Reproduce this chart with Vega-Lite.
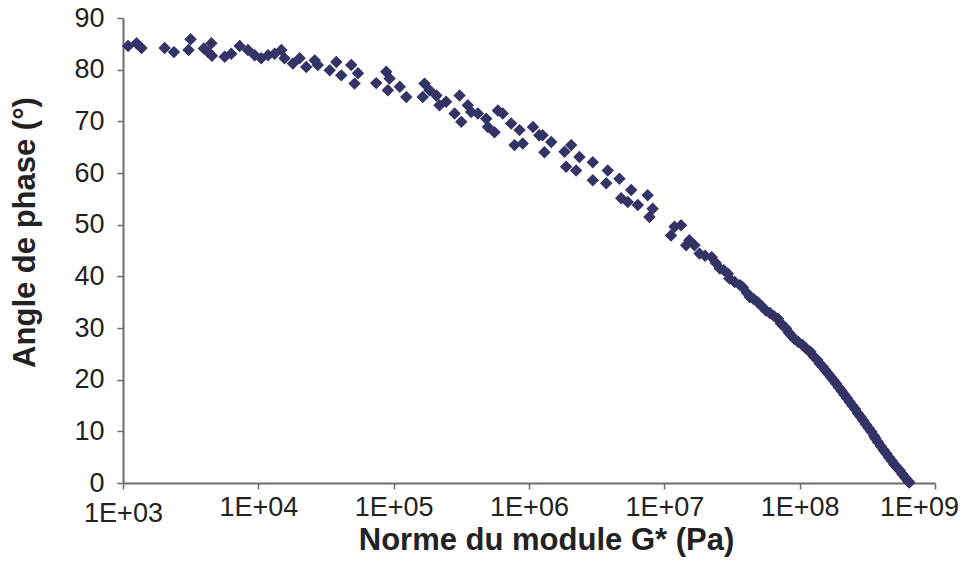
{
  "$schema": "https://vega.github.io/schema/vega-lite/v6.json",
  "width": 812,
  "height": 465,
  "autosize": "none",
  "padding": {"left": 123, "top": 18, "right": 27, "bottom": 88},
  "background": "white",
  "config": {
    "view": {"stroke": null},
    "axis": {
      "grid": false,
      "domainColor": "#706a6a",
      "domainWidth": 2,
      "tickColor": "#706a6a",
      "tickWidth": 1.5,
      "tickSize": 6,
      "labelFont": "Liberation Sans",
      "labelFontSize": 27,
      "labelColor": "#222222",
      "titleFont": "Liberation Sans",
      "titleFontSize": 31,
      "titleFontWeight": "bold",
      "titleColor": "#222222"
    }
  },
  "data": {
    "values": [
      {"G": 1.09e3, "phase": 84.6}, {"G": 1.26e3, "phase": 85.1}, {"G": 1.37e3, "phase": 84.2},
      {"G": 2.03e3, "phase": 84.2}, {"G": 2.38e3, "phase": 83.4}, {"G": 3.16e3, "phase": 85.9},
      {"G": 3.05e3, "phase": 83.8}, {"G": 3.96e3, "phase": 84.1}, {"G": 4.25e3, "phase": 83.4},
      {"G": 4.50e3, "phase": 85.1}, {"G": 4.54e3, "phase": 82.7}, {"G": 5.64e3, "phase": 82.5},
      {"G": 6.31e3, "phase": 83.1}, {"G": 7.28e3, "phase": 84.6}, {"G": 8.38e3, "phase": 83.8},
      {"G": 9.40e3, "phase": 82.8}, {"G": 1.05e4, "phase": 82.2}, {"G": 1.18e4, "phase": 82.8},
      {"G": 1.32e4, "phase": 83.1}, {"G": 1.48e4, "phase": 83.8}, {"G": 1.56e4, "phase": 82.2},
      {"G": 1.80e4, "phase": 81.2}, {"G": 2.02e4, "phase": 82.2}, {"G": 2.26e4, "phase": 80.5},
      {"G": 2.61e4, "phase": 81.8}, {"G": 2.75e4, "phase": 80.9}, {"G": 3.37e4, "phase": 79.9},
      {"G": 3.77e4, "phase": 81.5}, {"G": 4.10e4, "phase": 78.9}, {"G": 4.86e4, "phase": 80.9},
      {"G": 5.45e4, "phase": 79.3}, {"G": 5.14e4, "phase": 77.3}, {"G": 7.43e4, "phase": 77.4},
      {"G": 8.81e4, "phase": 79.6}, {"G": 9.33e4, "phase": 78.3}, {"G": 9.06e4, "phase": 76.0},
      {"G": 1.11e5, "phase": 76.7}, {"G": 1.24e5, "phase": 74.7}, {"G": 1.69e5, "phase": 77.3},
      {"G": 1.64e5, "phase": 74.7}, {"G": 1.84e5, "phase": 76.0}, {"G": 2.07e5, "phase": 75.0},
      {"G": 2.18e5, "phase": 73.1}, {"G": 2.44e5, "phase": 73.8}, {"G": 2.82e5, "phase": 71.5},
      {"G": 3.07e5, "phase": 75.0}, {"G": 3.16e5, "phase": 69.9}, {"G": 3.53e5, "phase": 73.1},
      {"G": 3.74e5, "phase": 71.8}, {"G": 4.19e5, "phase": 71.5}, {"G": 4.83e5, "phase": 70.5},
      {"G": 4.97e5, "phase": 68.9}, {"G": 5.56e5, "phase": 67.9}, {"G": 5.89e5, "phase": 72.1},
      {"G": 6.40e5, "phase": 71.5}, {"G": 7.38e5, "phase": 69.6}, {"G": 8.51e5, "phase": 68.3},
      {"G": 7.82e5, "phase": 65.4}, {"G": 8.99e5, "phase": 65.7}, {"G": 1.07e6, "phase": 68.9},
      {"G": 1.19e6, "phase": 67.3}, {"G": 1.30e6, "phase": 64.0}, {"G": 1.26e6, "phase": 67.3},
      {"G": 1.46e6, "phase": 66.0}, {"G": 1.83e6, "phase": 64.1}, {"G": 2.05e6, "phase": 65.4},
      {"G": 2.36e6, "phase": 63.1}, {"G": 1.88e6, "phase": 61.2}, {"G": 2.23e6, "phase": 60.5},
      {"G": 2.96e6, "phase": 62.1}, {"G": 2.96e6, "phase": 58.6}, {"G": 3.82e6, "phase": 60.5},
      {"G": 3.72e6, "phase": 58.0}, {"G": 4.66e6, "phase": 58.9}, {"G": 4.80e6, "phase": 55.1},
      {"G": 5.69e6, "phase": 56.7}, {"G": 5.37e6, "phase": 54.4}, {"G": 6.37e6, "phase": 53.8},
      {"G": 7.53e6, "phase": 55.7}, {"G": 8.20e6, "phase": 53.1}, {"G": 7.76e6, "phase": 51.5},
      {"G": 1.19e7, "phase": 49.6}, {"G": 1.12e7, "phase": 47.9}, {"G": 1.33e7, "phase": 49.9},
      {"G": 1.53e7, "phase": 47.0}, {"G": 1.67e7, "phase": 46.0}, {"G": 1.45e7, "phase": 46.0},
      {"G": 1.82e7, "phase": 44.4}, {"G": 2.00e7, "phase": 44.0}, {"G": 2.24e7, "phase": 43.7},
      {"G": 2.40e7, "phase": 42.6}, {"G": 2.57e7, "phase": 41.5}, {"G": 2.75e7, "phase": 41.2},
      {"G": 2.95e7, "phase": 40.5}, {"G": 3.02e7, "phase": 39.6}, {"G": 3.31e7, "phase": 38.9},
      {"G": 3.63e7, "phase": 38.3}, {"G": 3.80e7, "phase": 37.9}, {"G": 4.07e7, "phase": 36.8},
      {"G": 4.27e7, "phase": 36.0}, {"G": 4.57e7, "phase": 35.6}, {"G": 4.90e7, "phase": 35.0},
      {"G": 5.25e7, "phase": 34.2}, {"G": 5.62e7, "phase": 33.4}, {"G": 6.03e7, "phase": 32.9},
      {"G": 6.46e7, "phase": 32.3}, {"G": 6.92e7, "phase": 31.8}, {"G": 7.24e7, "phase": 30.9},
      {"G": 7.59e7, "phase": 30.4}, {"G": 7.94e7, "phase": 29.9}, {"G": 8.32e7, "phase": 29.1},
      {"G": 8.71e7, "phase": 28.5}, {"G": 9.12e7, "phase": 27.9}, {"G": 9.77e7, "phase": 27.3},
      {"G": 1.05e8, "phase": 26.7}, {"G": 1.12e8, "phase": 26.0}, {"G": 1.20e8, "phase": 25.4},
      {"G": 1.26e8, "phase": 24.6}, {"G": 1.35e8, "phase": 23.8}, {"G": 1.41e8, "phase": 23.1},
      {"G": 1.48e8, "phase": 22.5}, {"G": 1.55e8, "phase": 21.8}, {"G": 1.62e8, "phase": 21.2},
      {"G": 1.70e8, "phase": 20.5}, {"G": 1.78e8, "phase": 19.9}, {"G": 1.86e8, "phase": 19.2},
      {"G": 1.95e8, "phase": 18.5}, {"G": 2.04e8, "phase": 17.8}, {"G": 2.14e8, "phase": 17.1},
      {"G": 2.24e8, "phase": 16.4}, {"G": 2.34e8, "phase": 15.7}, {"G": 2.45e8, "phase": 15.0},
      {"G": 2.57e8, "phase": 14.3}, {"G": 2.69e8, "phase": 13.5}, {"G": 2.82e8, "phase": 12.8},
      {"G": 2.95e8, "phase": 12.1}, {"G": 3.09e8, "phase": 11.3}, {"G": 3.24e8, "phase": 10.6},
      {"G": 3.39e8, "phase": 9.9}, {"G": 3.55e8, "phase": 9.1}, {"G": 3.63e8, "phase": 8.6},
      {"G": 3.80e8, "phase": 7.9}, {"G": 3.98e8, "phase": 7.1}, {"G": 4.17e8, "phase": 6.4},
      {"G": 4.37e8, "phase": 5.7}, {"G": 4.57e8, "phase": 5.0}, {"G": 4.79e8, "phase": 4.3},
      {"G": 5.01e8, "phase": 3.6}, {"G": 5.25e8, "phase": 3.0}, {"G": 5.50e8, "phase": 2.4},
      {"G": 5.75e8, "phase": 1.7}, {"G": 6.03e8, "phase": 1.0}, {"G": 6.31e8, "phase": 0.4},
      {"G": 6.46e8, "phase": 0.1}
    ]
  },
  "mark": {"type": "point", "shape": "diamond", "filled": true, "size": 155, "color": "#333366", "opacity": 1},
  "encoding": {
    "x": {
      "field": "G",
      "type": "quantitative",
      "scale": {"type": "log", "domain": [1000, 1000000000], "nice": false},
      "axis": {
        "values": [1000, 10000, 100000, 1000000, 10000000, 100000000, 1000000000],
        "labelExpr": "'1E+0' + round(log(datum.value) / LN10)",
        "labelPadding": 32,
        "labelBaseline": {"condition": {"test": "datum.value < 2000", "value": "alphabetic"}, "value": "bottom"},
        "labelOffset": {"condition": {"test": "datum.value > 500000000", "value": -16}, "value": 0},
        "labelFlush": false,
        "labelOverlap": false,
        "title": "Norme du module G* (Pa)",
        "titleX": 423,
        "titleY": 57,
        "titleAlign": "center",
        "titleBaseline": "middle",
        "titleAnchor": null
      }
    },
    "y": {
      "field": "phase",
      "type": "quantitative",
      "scale": {"domain": [0, 90], "nice": false},
      "axis": {
        "values": [0, 10, 20, 30, 40, 50, 60, 70, 80, 90],
        "labelPadding": 13,
        "title": "Angle de  phase (°)",
        "titleX": -98,
        "titleY": 214,
        "titleAlign": "center",
        "titleBaseline": "middle",
        "titleAngle": -90
      }
    }
  }
}
